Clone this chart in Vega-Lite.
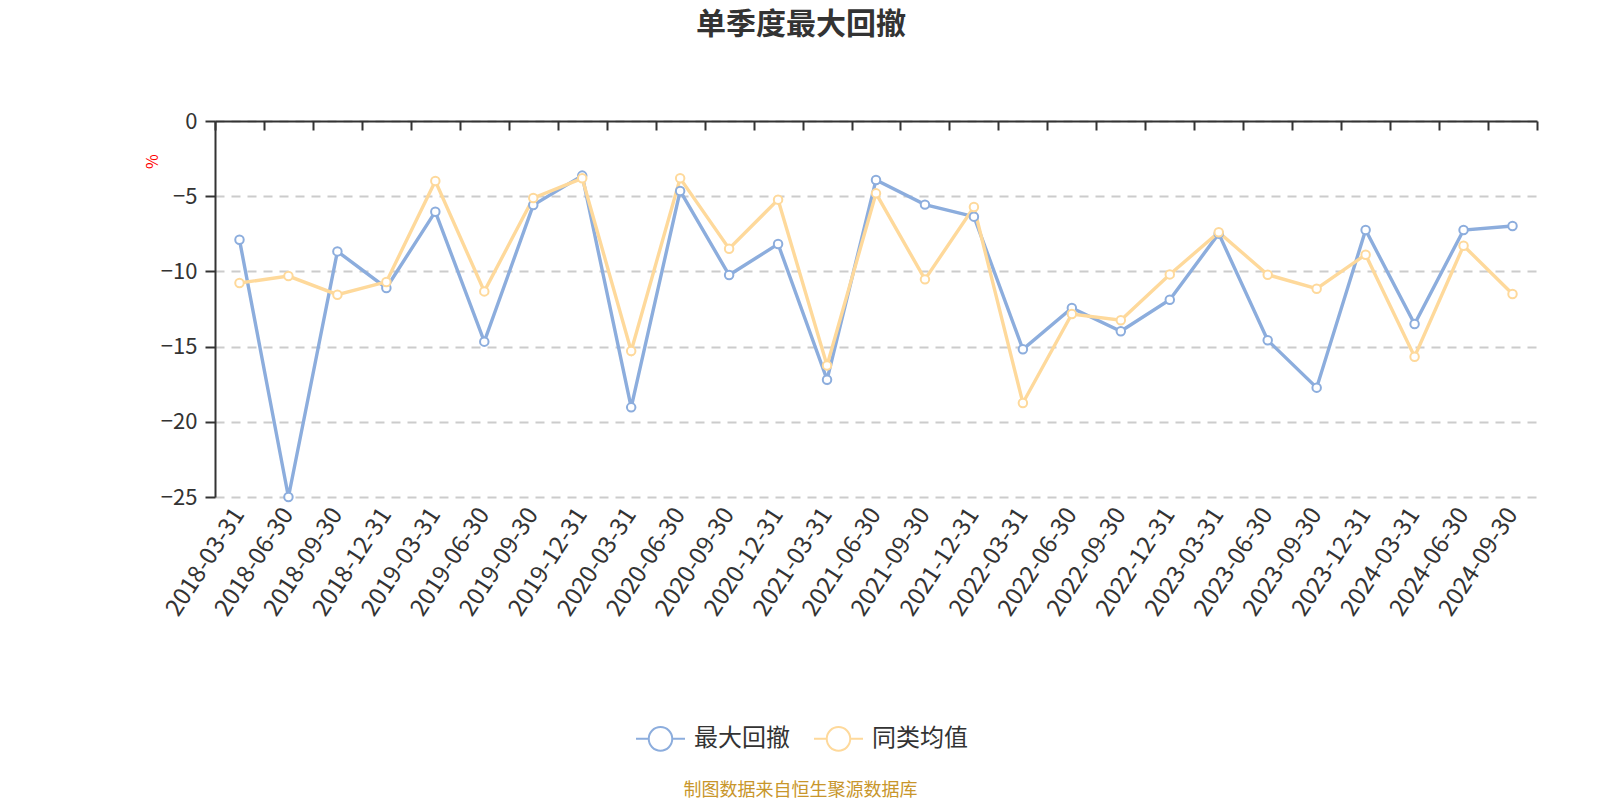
{
  "$schema": "https://vega.github.io/schema/vega-lite/v6.json",
  "width": 1322,
  "height": 376,
  "autosize": {"type": "none"},
  "padding": {"left": 215, "top": 121, "right": 63, "bottom": 303},
  "background": "white",
  "config": {
    "font": "Noto Sans CJK SC",
    "view": {"stroke": null}
  },
  "title": {
    "text": "单季度最大回撤",
    "fontSize": 30,
    "fontWeight": "bold",
    "color": "#333333",
    "anchor": "middle",
    "dx": -75,
    "offset": 70
  },
  "data": {
    "values": [
      {"date": "2018-03-31", "series": "最大回撤", "value": -7.9},
      {"date": "2018-06-30", "series": "最大回撤", "value": -25.0},
      {"date": "2018-09-30", "series": "最大回撤", "value": -8.67},
      {"date": "2018-12-31", "series": "最大回撤", "value": -11.1},
      {"date": "2019-03-31", "series": "最大回撤", "value": -6.03},
      {"date": "2019-06-30", "series": "最大回撤", "value": -14.67},
      {"date": "2019-09-30", "series": "最大回撤", "value": -5.59},
      {"date": "2019-12-31", "series": "最大回撤", "value": -3.63},
      {"date": "2020-03-31", "series": "最大回撤", "value": -19.04},
      {"date": "2020-06-30", "series": "最大回撤", "value": -4.65},
      {"date": "2020-09-30", "series": "最大回撤", "value": -10.24},
      {"date": "2020-12-31", "series": "最大回撤", "value": -8.18},
      {"date": "2021-03-31", "series": "最大回撤", "value": -17.2},
      {"date": "2021-06-30", "series": "最大回撤", "value": -3.92},
      {"date": "2021-09-30", "series": "最大回撤", "value": -5.56},
      {"date": "2021-12-31", "series": "最大回撤", "value": -6.36},
      {"date": "2022-03-31", "series": "最大回撤", "value": -15.18},
      {"date": "2022-06-30", "series": "最大回撤", "value": -12.43},
      {"date": "2022-09-30", "series": "最大回撤", "value": -13.98},
      {"date": "2022-12-31", "series": "最大回撤", "value": -11.88},
      {"date": "2023-03-31", "series": "最大回撤", "value": -7.49},
      {"date": "2023-06-30", "series": "最大回撤", "value": -14.58},
      {"date": "2023-09-30", "series": "最大回撤", "value": -17.73},
      {"date": "2023-12-31", "series": "最大回撤", "value": -7.25},
      {"date": "2024-03-31", "series": "最大回撤", "value": -13.5},
      {"date": "2024-06-30", "series": "最大回撤", "value": -7.25},
      {"date": "2024-09-30", "series": "最大回撤", "value": -6.98},
      {"date": "2018-03-31", "series": "同类均值", "value": -10.77},
      {"date": "2018-06-30", "series": "同类均值", "value": -10.31},
      {"date": "2018-09-30", "series": "同类均值", "value": -11.55},
      {"date": "2018-12-31", "series": "同类均值", "value": -10.7},
      {"date": "2019-03-31", "series": "同类均值", "value": -3.99},
      {"date": "2019-06-30", "series": "同类均值", "value": -11.33},
      {"date": "2019-09-30", "series": "同类均值", "value": -5.12},
      {"date": "2019-12-31", "series": "同类均值", "value": -3.81},
      {"date": "2020-03-31", "series": "同类均值", "value": -15.29},
      {"date": "2020-06-30", "series": "同类均值", "value": -3.81},
      {"date": "2020-09-30", "series": "同类均值", "value": -8.49},
      {"date": "2020-12-31", "series": "同类均值", "value": -5.23},
      {"date": "2021-03-31", "series": "同类均值", "value": -16.25},
      {"date": "2021-06-30", "series": "同类均值", "value": -4.81},
      {"date": "2021-09-30", "series": "同类均值", "value": -10.53},
      {"date": "2021-12-31", "series": "同类均值", "value": -5.72},
      {"date": "2022-03-31", "series": "同类均值", "value": -18.75},
      {"date": "2022-06-30", "series": "同类均值", "value": -12.83},
      {"date": "2022-09-30", "series": "同类均值", "value": -13.25},
      {"date": "2022-12-31", "series": "同类均值", "value": -10.2},
      {"date": "2023-03-31", "series": "同类均值", "value": -7.4},
      {"date": "2023-06-30", "series": "同类均值", "value": -10.22},
      {"date": "2023-09-30", "series": "同类均值", "value": -11.15},
      {"date": "2023-12-31", "series": "同类均值", "value": -8.89},
      {"date": "2024-03-31", "series": "同类均值", "value": -15.67},
      {"date": "2024-06-30", "series": "同类均值", "value": -8.29},
      {"date": "2024-09-30", "series": "同类均值", "value": -11.5}
    ]
  },
  "resolve": {"axis": {"x": "independent"}},
  "layer": [
    {
      "mark": {"type": "line", "strokeWidth": 3.4},
      "encoding": {
        "x": {
          "field": "date",
          "type": "nominal",
          "sort": null,
          "bandPosition": 0.5,
          "scale": {"type": "band", "paddingInner": 0, "paddingOuter": 0},
          "axis": {
            "orient": "top",
            "labels": false,
            "title": null,
            "grid": false,
            "domain": true,
            "domainColor": "#333333",
            "domainWidth": 2,
            "ticks": true,
            "tickBand": "extent",
            "tickSize": -9,
            "tickColor": "#333333",
            "tickWidth": 2
          }
        },
        "y": {
          "field": "value",
          "type": "quantitative",
          "scale": {"domain": [-25, 0], "nice": false, "zero": false},
          "axis": {
            "values": [0, -5, -10, -15, -20, -25],
            "title": "%",
            "titleColor": "#ff0000",
            "titleFontSize": 16,
            "titleFontWeight": "normal",
            "titleAngle": -90,
            "titleAlign": "center",
            "titleBaseline": "middle",
            "titleX": -63,
            "titleY": 40,
            "labelFontSize": 22,
            "labelColor": "#333333",
            "labelPadding": 8,
            "domainColor": "#333333",
            "domainWidth": 2,
            "tickColor": "#333333",
            "tickSize": 10,
            "tickWidth": 2,
            "grid": true,
            "gridColor": "#cccccc",
            "gridDash": [9, 7],
            "gridWidth": 2
          }
        },
        "color": {
          "field": "series",
          "type": "nominal",
          "sort": ["最大回撤", "同类均值"],
          "scale": {"domain": ["最大回撤", "同类均值"], "range": ["#8caddd", "#fed99b"]},
          "legend": {
            "title": null,
            "orient": "none",
            "legendX": 420,
            "legendY": 592,
            "direction": "horizontal",
            "symbolType": "M-1,0L-0.48,0M0.48,0L1,0M0.48,0A0.48,0.48 0 1,1 -0.48,0A0.48,0.48 0 1,1 0.48,0",
            "symbolSize": 2400,
            "symbolStrokeWidth": 2,
            "symbolFillColor": "white",
            "labelFontSize": 24,
            "labelColor": "#333333",
            "labelOffset": 8,
            "columnPadding": 20
          }
        }
      }
    },
    {
      "mark": {"type": "point", "shape": "circle", "filled": false, "fill": "white", "size": 72, "strokeWidth": 2, "opacity": 1},
      "encoding": {
        "x": {
          "field": "date",
          "type": "nominal",
          "sort": null,
          "bandPosition": 0.5,
          "axis": {
            "orient": "bottom",
            "domain": false,
            "ticks": false,
            "grid": false,
            "labelAngle": -57,
            "labelFontSize": 24,
            "labelColor": "#333333",
            "labelPadding": 13,
            "title": "制图数据来自恒生聚源数据库",
            "titleColor": "#c8962b",
            "titleFontSize": 18,
            "titleFontWeight": "normal",
            "titleX": 585,
            "titleY": 293,
            "titleAnchor": null,
            "titleAlign": "center",
            "titleBaseline": "middle"
          }
        },
        "y": {"field": "value", "type": "quantitative"},
        "color": {"field": "series", "type": "nominal", "sort": ["最大回撤", "同类均值"]}
      }
    }
  ]
}
